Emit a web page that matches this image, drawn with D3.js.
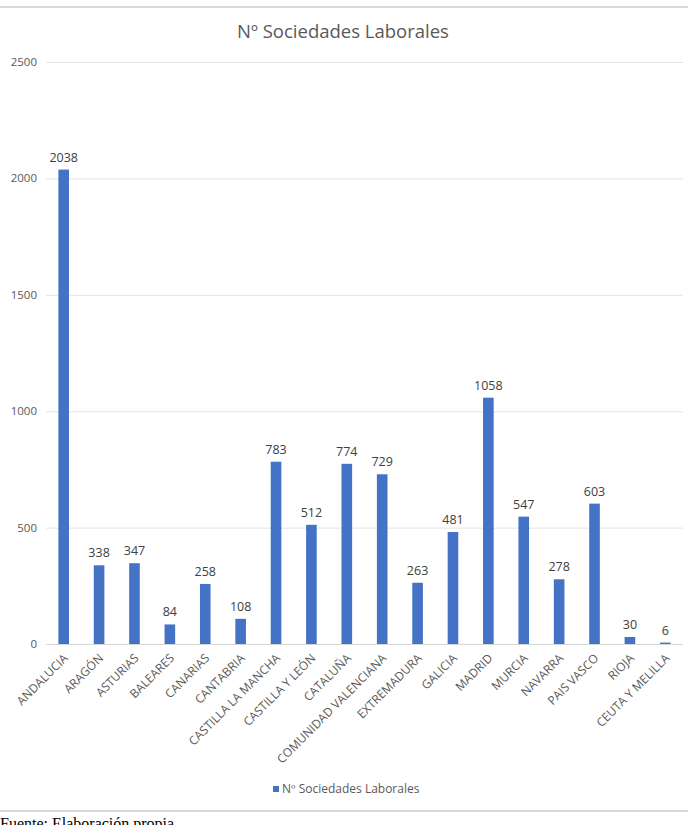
<!DOCTYPE html>
<html>
<head>
<meta charset="utf-8">
<script src="https://cdn.jsdelivr.net/npm/d3@7"></script>
<style>
  html, body { margin: 0; padding: 0; background: #fff; }
  svg { display: block; }
</style>
</head>
<body>
<svg id="chart" width="688" height="825"></svg>
<script>
const categories = ['ANDALUCIA', 'ARAGÓN', 'ASTURIAS', 'BALEARES', 'CANARIAS', 'CANTABRIA',
  'CASTILLA LA MANCHA', 'CASTILLA Y LEÓN', 'CATALUÑA', 'COMUNIDAD VALENCIANA', 'EXTREMADURA',
  'GALICIA', 'MADRID', 'MURCIA', 'NAVARRA', 'PAIS VASCO', 'RIOJA', 'CEUTA Y MELILLA'];
const values = [2038, 338, 347, 84, 258, 108, 783, 512, 774, 729, 263, 481, 1058, 547, 278, 603, 30, 6];
const yTicks = [0, 500, 1000, 1500, 2000, 2500];
const seriesName = 'Nº Sociedades Laborales';

const FONT = '"Open Sans", "Noto Sans", sans-serif';
const TEXT = '#595959';
const BAR = '#4472C4';

const svg = d3.select('#chart');
const W = 688;

// page frame lines (document borders)
svg.append('line').attr('x1', 0).attr('x2', W).attr('y1', 7).attr('y2', 7)
  .attr('stroke', '#d9d9d9').attr('stroke-width', 2);
svg.append('line').attr('x1', 0).attr('x2', W).attr('y1', 811).attr('y2', 811)
  .attr('stroke', '#d9d9d9').attr('stroke-width', 2);

// title
svg.append('text')
  .attr('x', 343).attr('y', 38)
  .attr('text-anchor', 'middle')
  .attr('font-family', FONT).attr('font-size', 18.5)
  .attr('fill', TEXT)
  .text(seriesName);

const x = d3.scaleBand().domain(categories).range([46, 683]).paddingInner(0.7).paddingOuter(0.35);
const y = d3.scaleLinear().domain([0, 2500]).range([644, 62]);

// gridlines
svg.append('g').selectAll('line').data(yTicks.filter(d => d > 0)).join('line')
  .attr('x1', 46).attr('x2', 683)
  .attr('y1', d => y(d) + 0.5).attr('y2', d => y(d) + 0.5)
  .attr('stroke', '#e3e3e3').attr('stroke-width', 1);

// y labels
svg.append('g').selectAll('text').data(yTicks).join('text')
  .attr('x', 37).attr('y', d => y(d))
  .attr('dy', '0.35em')
  .attr('text-anchor', 'end')
  .attr('font-family', FONT).attr('font-size', 11.5)
  .attr('fill', TEXT)
  .text(d => d);

// bars
svg.append('g').selectAll('rect').data(values).join('rect')
  .attr('x', (d, i) => x(categories[i]))
  .attr('y', d => y(d))
  .attr('width', x.bandwidth())
  .attr('height', d => y(0) - y(d))
  .attr('fill', BAR);

// axis line
svg.append('line').attr('x1', 46).attr('x2', 683).attr('y1', y(0) + 0.5).attr('y2', y(0) + 0.5)
  .attr('stroke', '#d9d9d9').attr('stroke-width', 1);

// data labels
svg.append('g').selectAll('text').data(values).join('text')
  .attr('x', (d, i) => x(categories[i]) + x.bandwidth() / 2)
  .attr('y', d => y(d) - 8)
  .attr('text-anchor', 'middle')
  .attr('font-family', FONT).attr('font-size', 12.5)
  .attr('fill', '#404040')
  .text(d => d);

// category labels
svg.append('g').selectAll('text').data(categories).join('text')
  .attr('transform', d => `translate(${x(d) + x.bandwidth() / 2 - 1},${y(0) + 9}) rotate(-45)`)
  .attr('text-anchor', 'end')
  .attr('dy', '0.7em')
  .attr('font-family', FONT).attr('font-size', 12)
  .attr('fill', TEXT)
  .text(d => d);

// legend
const lg = svg.append('g').attr('transform', 'translate(273,785)');
lg.append('rect').attr('width', 6).attr('height', 6).attr('y', 1).attr('fill', BAR);
lg.append('text').attr('x', 9).attr('y', 4).attr('dy', '0.35em')
  .attr('font-family', FONT).attr('font-size', 12)
  .attr('fill', TEXT)
  .text(seriesName);

// source note
svg.append('text')
  .attr('x', 0).attr('y', 829)
  .attr('font-family', '"Liberation Serif", "DejaVu Serif", serif')
  .attr('font-size', 16)
  .attr('fill', '#000')
  .text('Fuente: Elaboración propia');
</script>
</body>
</html>
